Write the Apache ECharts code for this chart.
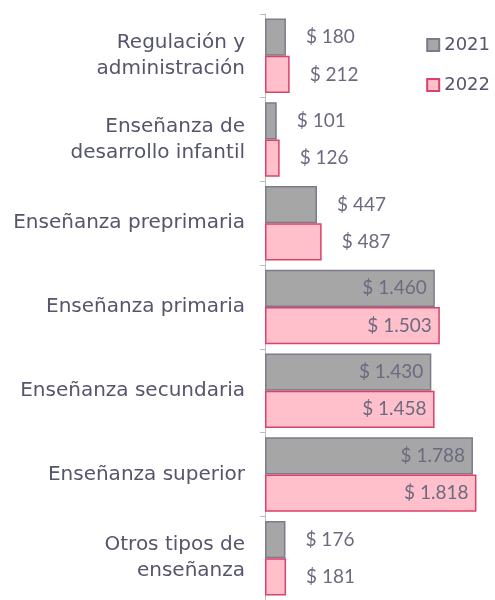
<!DOCTYPE html>
<html>
<head>
<meta charset="utf-8">
<script src="https://cdn.jsdelivr.net/npm/echarts@6/dist/echarts.min.js"></script>
<style>
  html, body { margin: 0; padding: 0; background: #fff; }
  #chart { width: 495px; height: 600px; }
</style>
</head>
<body>
<div id="chart"></div>
<script>
// categorías (de arriba a abajo)
const categories = [
  'Regulación y\nadministración',
  'Enseñanza de\ndesarrollo infantil',
  'Enseñanza preprimaria',
  'Enseñanza primaria',
  'Enseñanza secundaria',
  'Enseñanza superior',
  'Otros tipos de\nenseñanza'
]
const values2021 = [180, 101, 447, 1460, 1430, 1788, 176]
const values2022 = [212, 126, 487, 1503, 1458, 1818, 181]
const seriesNames = ['2021', '2022']

const textColor = '#55556b'
const valueColor = '#6b6b80'

// formato "$ 1.460"
function fmt(v) {
  return '$ ' + String(v).replace(/\B(?=(\d{3})+(?!\d))/g, '.')
}

// barras grandes: etiqueta dentro; pequeñas: fuera
function toData(values) {
  return values.map(v => ({
    value: v,
    label: v > 1000
      ? { position: 'insideRight', distance: 8 }
      : { position: 'right', distance: 20 }
  }))
}

const chart = echarts.init(document.getElementById('chart'))
chart.setOption({
  animation: false,
  legend: {
    orient: 'vertical',
    right: 0,
    top: 31,
    itemWidth: 12,
    itemHeight: 12,
    itemGap: 22,
    icon: 'rect',
    textStyle: { color: textColor, fontSize: 18, fontFamily: 'DejaVu Sans' },
    data: seriesNames
  },
  grid: { left: 265, right: 9, top: 14, bottom: -5, containLabel: false },
  xAxis: {
    type: 'value',
    min: 0,
    max: 1900,
    show: false
  },
  yAxis: {
    type: 'category',
    inverse: true,
    data: categories,
    axisLine: { show: true, lineStyle: { color: '#bdbdbd', width: 1 } },
    axisTick: { show: true, length: 5, lineStyle: { color: '#bdbdbd' } },
    axisLabel: {
      color: textColor,
      fontSize: 20,
      fontFamily: 'DejaVu Sans',
      lineHeight: 26,
      margin: 20,
      align: 'right'
    }
  },
  series: [
    {
      name: seriesNames[0],
      type: 'bar',
      data: toData(values2021),
      barGap: '0%',
      barCategoryGap: '11%',
      itemStyle: { color: '#a6a6a6', borderColor: '#7b7b8c', borderWidth: 1.5 },
      label: { show: true, color: valueColor, fontSize: 19, fontFamily: 'Lato', formatter: p => fmt(p.value) }
    },
    {
      name: seriesNames[1],
      type: 'bar',
      data: toData(values2022),
      barGap: '0%',
      barCategoryGap: '11%',
      itemStyle: { color: '#ffbfcb', borderColor: '#dd4068', borderWidth: 1.5 },
      label: { show: true, color: valueColor, fontSize: 19, fontFamily: 'Lato', formatter: p => fmt(p.value) }
    }
  ]
})
</script>
</body>
</html>
